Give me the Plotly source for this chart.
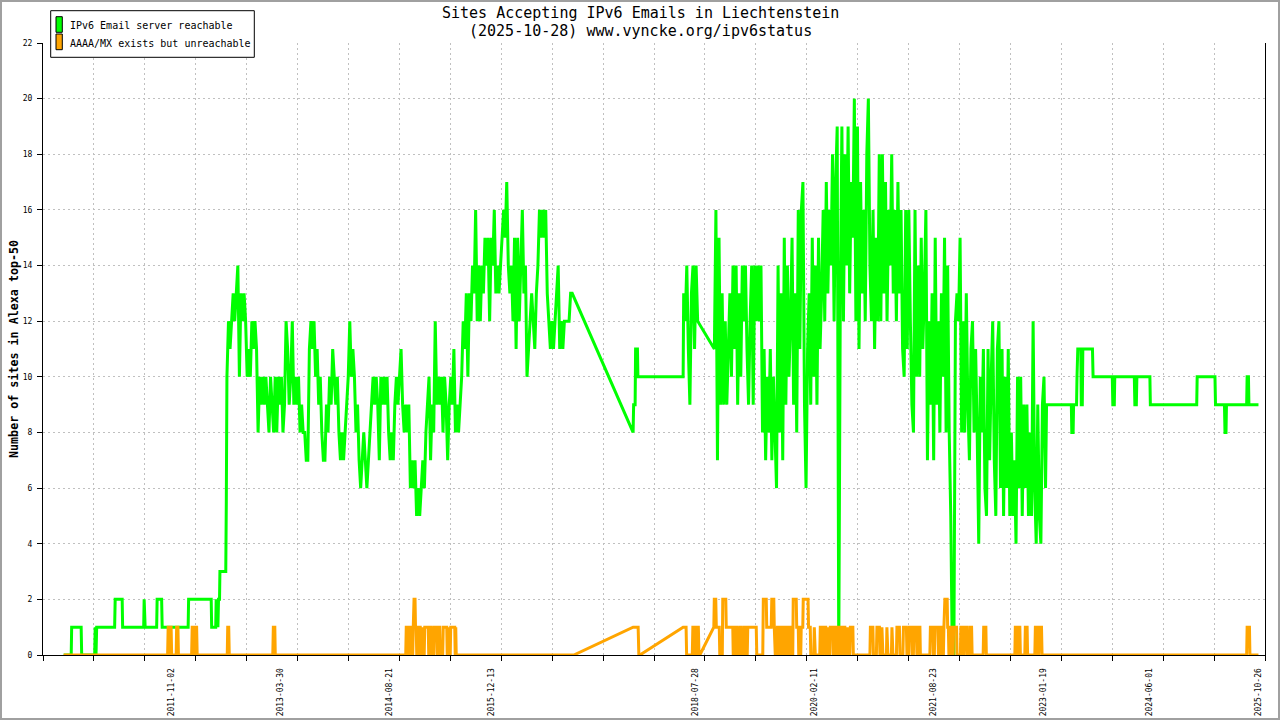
import pandas as pd
import plotly.graph_objects as go

# -----------------------------
# Data (x in decimal years)
# -----------------------------
# IPv6 Email server reachable - sparse start
green_early_x = [2010.450, 2010.547, 2010.553, 2010.675, 2010.682, 2010.849, 2010.856, 2010.866,
                 2010.875, 2011.106, 2011.113, 2011.203, 2011.209, 2011.480, 2011.486, 2011.499,
                 2011.647, 2011.653, 2011.711, 2011.718, 2012.052, 2012.058, 2012.348, 2012.354,
                 2012.406, 2012.412, 2012.434, 2012.442, 2012.455, 2012.460, 2012.535, 2012.542]
green_early_y = [0, 0, 1, 1, 0, 0, 1, 0,
                 1, 1, 2, 2, 1, 1, 2, 1,
                 1, 2, 2, 1, 1, 2, 2, 1,
                 1, 2, 1, 2, 2, 3, 3, 5.5]

# samples every 0.02 year, from 2012.55
green_run1 = [10, 12, 11, 12, 13, 12, 13, 14, 10, 13,
              12, 13, 12, 10, 11, 10, 12, 11, 12, 11,
              8, 10, 9, 10, 9, 10, 9, 8, 10, 9,
              8, 10, 8, 10, 9, 10, 8, 9, 12, 11,
              9, 10, 12, 9, 10, 9, 10, 8, 9, 8,
              8, 7, 7, 11, 12, 11, 12, 10, 11, 9,
              10, 8, 7, 7, 9, 8, 10, 9, 11, 10,
              9, 10, 8, 7, 8, 7, 8, 9, 10, 12,
              10, 11, 10, 8, 9, 7, 6, 7, 8, 7,
              6, 7, 8, 9, 10, 9, 10, 9, 7, 10,
              9, 10, 9, 10, 8, 7, 8, 7, 9, 10,
              9, 10, 11, 9, 8, 9, 8, 9, 6, 7,
              6, 7, 5, 6, 5, 6, 7, 6, 8, 9,
              10, 7, 9, 8, 12, 9, 10, 9, 10, 8,
              10, 9, 7, 9, 10, 9, 11, 8, 9, 8,
              9, 10, 12, 11, 13, 10, 13, 12, 14, 13,
              16, 12, 14, 12, 14, 13, 15, 14, 15, 12,
              15, 14, 16, 13, 14, 13, 14, 15, 16, 15,
              17, 14, 13, 14, 12, 15, 11, 15, 12, 14,
              16, 13, 14, 10, 11, 12, 13, 12, 11, 13,
              14, 16, 15, 16, 15, 16, 13, 12, 11, 12,
              11, 12, 13, 14, 11, 12, 11, 12, 12, 12,
              12, 13, 13]

green_gap_x = [2017.774, 2017.781, 2017.800, 2017.806, 2017.830, 2017.836, 2018.418]
green_gap_y = [8, 9, 9, 11, 11, 10, 10]

# samples every 0.02 year, from 2018.425
green_run2 = [13, 12, 14, 11, 9, 13, 14, 11, 14, 12]

# samples every 0.02 year, from 2018.82
green_run3 = [11, 16, 7, 15, 9, 13, 9, 12, 9, 11,
              13, 10, 14, 11, 14, 9, 13, 10, 14, 12,
              14, 11, 9, 12, 14, 9, 14, 12, 14, 12,
              14, 8, 11, 7, 10, 8, 11, 7, 10, 8,
              6, 14, 8, 13, 7, 15, 9, 14, 10, 12,
              15, 9, 13, 8, 16, 11, 16, 17, 9, 6,
              11, 13, 9, 15, 10, 14, 9, 15, 11, 13,
              16, 12, 17, 13, 16, 14, 18, 12, 17, 19,
              0, 13, 19, 12, 18, 14, 19, 13, 17, 15,
              20, 12, 19, 11, 17, 13, 16, 12, 18, 20,
              14, 12, 16, 11, 15, 12, 18, 12, 18, 13,
              17, 12, 16, 14, 18, 13, 16, 12, 17, 13,
              16, 11, 10, 16, 11, 16, 12, 9, 8, 16,
              10, 14, 10, 15, 11, 13, 16, 7, 12, 9,
              13, 7, 15, 9, 12, 8, 13, 10, 15, 8,
              14, 8, 5, 0, 0, 12, 13, 12, 15, 8,
              12, 8, 13, 9, 7, 11, 12, 8, 11, 8,
              4, 10, 8, 11, 6, 5, 11, 7, 10, 12,
              7, 5, 11, 12, 6, 11, 5, 10, 6, 11,
              5, 8, 5, 7, 4, 10, 6, 10, 5, 9,
              6, 9, 5, 8, 5, 12, 6, 4, 9, 5,
              4, 9, 10, 6]

green_late_x = [2023.093, 2023.412, 2023.418, 2023.435, 2023.441, 2023.479, 2023.485, 2023.495,
                2023.534, 2023.540, 2023.553, 2023.560, 2023.684, 2023.692, 2023.939, 2023.946,
                2023.965, 2023.971, 2024.222, 2024.229, 2024.248, 2024.255, 2024.422, 2024.428,
                2025.023, 2025.029, 2025.258, 2025.265, 2025.380, 2025.387, 2025.400, 2025.406,
                2025.666, 2025.672, 2025.689, 2025.695, 2025.818]
green_late_y = [9, 9, 8, 8, 9, 9, 10, 11,
                11, 9, 9, 11, 11, 10, 10, 9,
                9, 10, 10, 9, 9, 10, 10, 9,
                9, 10, 10, 9, 9, 8, 8, 9,
                9, 10, 10, 9, 9]

# AAAA/MX exists but unreachable
orange_x = [2010.450, 2011.788, 2011.795, 2011.808, 2011.814, 2011.820, 2011.833, 2011.840,
            2011.898, 2011.904, 2011.921, 2011.927,
            2012.097, 2012.104, 2012.123, 2012.129, 2012.136, 2012.161, 2012.168,
            2012.554, 2012.560, 2012.573, 2012.580,
            2013.139, 2013.146, 2013.165, 2013.171,
            2014.850, 2014.857, 2014.876, 2014.883, 2014.902, 2014.908, 2014.921, 2014.927,
            2014.940, 2014.947, 2014.957, 2014.970, 2014.976, 2014.985, 2014.992,
            2015.005, 2015.011, 2015.037, 2015.043, 2015.056, 2015.063, 2015.069,
            2015.088, 2015.095, 2015.140, 2015.146, 2015.159, 2015.165, 2015.178, 2015.185,
            2015.210, 2015.217, 2015.249, 2015.255, 2015.268, 2015.275, 2015.288, 2015.294,
            2015.326, 2015.333, 2015.378, 2015.384, 2015.397, 2015.403, 2015.414,
            2015.423, 2015.429, 2015.481, 2015.487, 2015.494, 2015.500,
            2017.011, 2017.774, 2017.839, 2017.848, 2017.861, 2018.418, 2018.456, 2018.463,
            2018.536, 2018.543, 2018.568, 2018.575, 2018.598, 2018.604, 2018.614, 2018.622, 2018.633,
            2018.813, 2018.819, 2018.838, 2018.845, 2018.883, 2018.890, 2018.922, 2018.928, 2018.967, 2018.973, 2019.057, 2019.063,
            2019.083, 2019.089, 2019.108, 2019.115, 2019.140, 2019.147, 2019.166, 2019.173, 2019.198, 2019.205, 2019.224, 2019.231, 2019.243, 2019.250, 2019.359, 2019.366,
            2019.443, 2019.450, 2019.488, 2019.494, 2019.552, 2019.559, 2019.585, 2019.591, 2019.604,
            2019.623, 2019.630, 2019.649, 2019.656, 2019.675, 2019.681, 2019.700, 2019.707, 2019.726, 2019.733, 2019.752, 2019.758, 2019.777, 2019.784, 2019.803, 2019.810,
            2019.829, 2019.835, 2019.874, 2019.880, 2019.900, 2019.906, 2019.932, 2019.938, 2019.958, 2019.964, 2020.026, 2020.032, 2020.054, 2020.061,
            2020.099, 2020.106, 2020.119,
            2020.176, 2020.183, 2020.202, 2020.208, 2020.221, 2020.228, 2020.253, 2020.260, 2020.273, 2020.279, 2020.292,
            2020.305, 2020.311, 2020.344, 2020.350, 2020.369, 2020.376, 2020.395, 2020.402, 2020.414, 2020.421, 2020.446, 2020.453,
            2020.472, 2020.479, 2020.498, 2020.504, 2020.524, 2020.530, 2020.543, 2020.562, 2020.569, 2020.601, 2020.607,
            2020.820, 2020.826, 2020.858, 2020.865, 2020.903, 2020.910, 2020.942, 2020.948, 2020.968, 2020.974, 2020.987,
            2021.032, 2021.038, 2021.051, 2021.096, 2021.103, 2021.116, 2021.161, 2021.167, 2021.199, 2021.206,
            2021.244, 2021.251, 2021.289, 2021.296, 2021.321, 2021.328, 2021.360, 2021.366, 2021.379, 2021.386, 2021.418, 2021.424, 2021.437, 2021.444, 2021.463, 2021.469,
            2021.591, 2021.598, 2021.630, 2021.636, 2021.649, 2021.656, 2021.694, 2021.701, 2021.714, 2021.720, 2021.746, 2021.752,
            2021.765, 2021.772, 2021.784, 2021.814, 2021.820, 2021.829, 2021.836, 2021.849, 2021.855, 2021.868, 2021.874,
            2021.891, 2021.897, 2021.935, 2021.941, 2021.984, 2021.990, 2022.010, 2022.016, 2022.029, 2022.036, 2022.064, 2022.070,
            2022.097, 2022.104, 2022.128, 2022.135, 2022.277, 2022.284, 2022.312, 2022.318,
            2022.685, 2022.691, 2022.711, 2022.717, 2022.730, 2022.736, 2022.749, 2022.756, 2022.813, 2022.820, 2022.843, 2022.849,
            2022.942, 2022.949, 2022.974, 2022.981, 2022.994, 2023.000, 2023.028, 2023.035,
            2025.666, 2025.672, 2025.702, 2025.708, 2025.818]
orange_y = [0, 0, 1, 1, 0, 1, 1, 0,
            0, 1, 1, 0,
            0, 1, 1, 0, 1, 1, 0,
            0, 1, 1, 0,
            0, 1, 1, 0,
            0, 1, 1, 0, 0, 1, 1, 0,
            0, 1, 2, 2, 1, 1, 0,
            0, 1, 1, 0, 0, 1, 0,
            0, 1, 1, 0, 0, 1, 1, 0,
            0, 1, 1, 0, 0, 1, 1, 0,
            0, 1, 1, 0, 0, 1, 0,
            0, 1, 1, 0, 1, 0,
            0, 1, 1, 0, 0, 1, 1, 0,
            0, 1, 1, 0, 0, 1, 1, 0, 0,
            1, 2, 2, 1, 1, 0, 0, 2, 2, 1, 1, 0,
            0, 1, 1, 0, 0, 1, 1, 0, 0, 1, 1, 0, 0, 1, 1, 0,
            0, 2, 2, 1, 1, 2, 2, 1, 0,
            0, 1, 1, 0, 0, 1, 1, 0, 0, 1, 1, 0, 0, 1, 1, 0,
            0, 2, 2, 1, 1, 0, 0, 1, 1, 2, 2, 1, 1, 0,
            0, 1, 0,
            0, 1, 1, 0, 0, 1, 1, 0, 0, 1, 0,
            0, 1, 1, 0, 0, 1, 1, 0, 0, 1, 1, 0,
            0, 1, 1, 0, 0, 1, 0, 0, 1, 1, 0,
            0, 1, 1, 0, 0, 1, 1, 0, 0, 1, 0,
            0, 1, 0, 0, 1, 0, 0, 1, 1, 0,
            0, 1, 1, 0, 0, 1, 1, 0, 0, 1, 1, 0, 0, 1, 1, 0,
            0, 1, 1, 0, 0, 1, 1, 0, 0, 1, 1, 0,
            0, 1, 2, 2, 1, 1, 0, 0, 1, 1, 0,
            0, 1, 1, 0, 0, 1, 1, 0, 0, 1, 1, 0,
            0, 1, 1, 0, 0, 1, 1, 0,
            0, 1, 1, 0, 0, 1, 1, 0, 0, 1, 1, 0,
            0, 1, 1, 0, 0, 1, 1, 0,
            0, 1, 1, 0, 0]

label_dates = ["2011-11-02", "2013-03-30", "2014-08-21", "2015-12-13", "2018-07-28",
               "2020-02-11", "2021-08-23", "2023-01-19", "2024-06-01", "2025-10-26"]

x_start, x_end = 2010.184, 2025.902
step = 0.02


def to_date(v):
    y = int(v)
    start = pd.Timestamp(year=y, month=1, day=1)
    end = pd.Timestamp(year=y + 1, month=1, day=1)
    return start + (end - start) * (v - y)


def run(start, values):
    return [round(start + step * i, 4) for i in range(len(values))]


green_x = (green_early_x + run(2012.55, green_run1) + green_gap_x
           + run(2018.425, green_run2) + run(2018.82, green_run3) + green_late_x)
green_y = green_early_y + green_run1 + green_gap_y + green_run2 + green_run3 + green_late_y

FONT = "DejaVu Sans Mono"
W, H = 1280, 720
L, R, T, B = 43, 15, 43, 65
PW, PH = W - L - R, H - T - B


def px(x):
    return (x - L) / PW


def py(y):
    return (H - B - y) / PH


fig = go.Figure()
fig.add_trace(go.Scatter(
    x=[to_date(v) for v in green_x], y=green_y, mode='lines',
    line=dict(color='#00ff00', width=3, simplify=False),
    name='IPv6 Email server reachable', showlegend=False
))
fig.add_trace(go.Scatter(
    x=[to_date(v) for v in orange_x], y=orange_y, mode='lines',
    line=dict(color='#ffa500', width=3, simplify=False),
    name='AAAA/MX exists but unreachable', showlegend=False,
    xaxis='x2', yaxis='y'
))

x_range = [to_date(x_start), to_date(x_end)]
tick_dates = [to_date(x_start + i * (x_end - x_start) / 24) for i in range(25)]

fig.update_layout(
    width=W, height=H,
    margin=dict(l=L, r=R, t=T, b=B, autoexpand=False),
    paper_bgcolor='white', plot_bgcolor='white',
    font=dict(family=FONT, color='black'),
    xaxis=dict(type='date', range=x_range, tickmode='array', tickvals=tick_dates,
               showticklabels=False, ticks='outside', ticklen=5, tickcolor='black',
               showgrid=True, gridcolor='#c0c0c0', griddash='2px,3px', gridwidth=1,
               showline=True, linecolor='black', linewidth=1, zeroline=False,
               automargin=False),
    xaxis2=dict(type='date', range=x_range, overlaying='x', anchor='y', side='bottom',
                tickmode='array', tickvals=label_dates, ticktext=label_dates,
                tickangle=-90, ticks='outside', ticklen=9, tickcolor='rgba(0,0,0,0)',
                tickfont=dict(family=FONT, size=8, color='black'),
                showgrid=False, showline=False, zeroline=False, automargin=False),
    yaxis=dict(range=[0, 22], tickmode='array', tickvals=list(range(0, 23, 2)),
               ticks='outside', ticklen=5, tickcolor='black', ticklabelstandoff=3,
               tickfont=dict(family=FONT, size=8, color='black'),
               showgrid=True, gridcolor='#c0c0c0', griddash='2px,3px', gridwidth=1,
               showline=True, mirror=True, linecolor='black', linewidth=1, zeroline=False,
               automargin=False),
)

# title, two centred lines
fig.add_annotation(text='Sites Accepting IPv6 Emails in Liechtenstein', xref='paper', yref='paper',
                   x=px(640), y=py(13), xanchor='center', yanchor='middle', showarrow=False,
                   font=dict(family=FONT, size=15, color='black'))
fig.add_annotation(text='(2025-10-28) www.vyncke.org/ipv6status', xref='paper', yref='paper',
                   x=px(640), y=py(31), xanchor='center', yanchor='middle', showarrow=False,
                   font=dict(family=FONT, size=15, color='black'))

# outer frame
fig.add_shape(type='rect', xref='paper', yref='paper',
              x0=px(1), x1=px(W - 1), y0=py(H - 1), y1=py(1),
              line=dict(color='#a0a0a0', width=2), fillcolor='rgba(0,0,0,0)')

# legend box
fig.add_shape(type='rect', xref='paper', yref='paper',
              x0=px(50.7), x1=px(254.3), y0=py(57.3), y1=py(10.7),
              line=dict(color='black', width=1), fillcolor='white')
fig.add_shape(type='rect', xref='paper', yref='paper',
              x0=px(56), x1=px(62.3), y0=py(32.3), y1=py(16.7),
              line=dict(color='black', width=1), fillcolor='#00ff00')
fig.add_shape(type='rect', xref='paper', yref='paper',
              x0=px(56), x1=px(62.3), y0=py(49.7), y1=py(34),
              line=dict(color='black', width=1), fillcolor='#ffa500')
fig.add_annotation(text='IPv6 Email server reachable', xref='paper', yref='paper',
                   x=px(67.5), y=py(25.5), xanchor='left', yanchor='middle', showarrow=False,
                   font=dict(family=FONT, size=10, color='black'))
fig.add_annotation(text='AAAA/MX exists but unreachable', xref='paper', yref='paper',
                   x=px(67.5), y=py(43.3), xanchor='left', yanchor='middle', showarrow=False,
                   font=dict(family=FONT, size=10, color='black'))

# y axis title
fig.add_annotation(text='Number of sites in Alexa top-50', xref='paper', yref='paper',
                   x=px(14), y=0.5, xanchor='center', yanchor='middle', textangle=-90,
                   showarrow=False, font=dict(family=FONT, size=11.7, color='black', weight='bold'))

# the page body has a default 8px margin; drop it so the figure fills the window
fig.write_html("out.html", config={'displayModeBar': False},
               post_script="document.body.style.margin='0';")
